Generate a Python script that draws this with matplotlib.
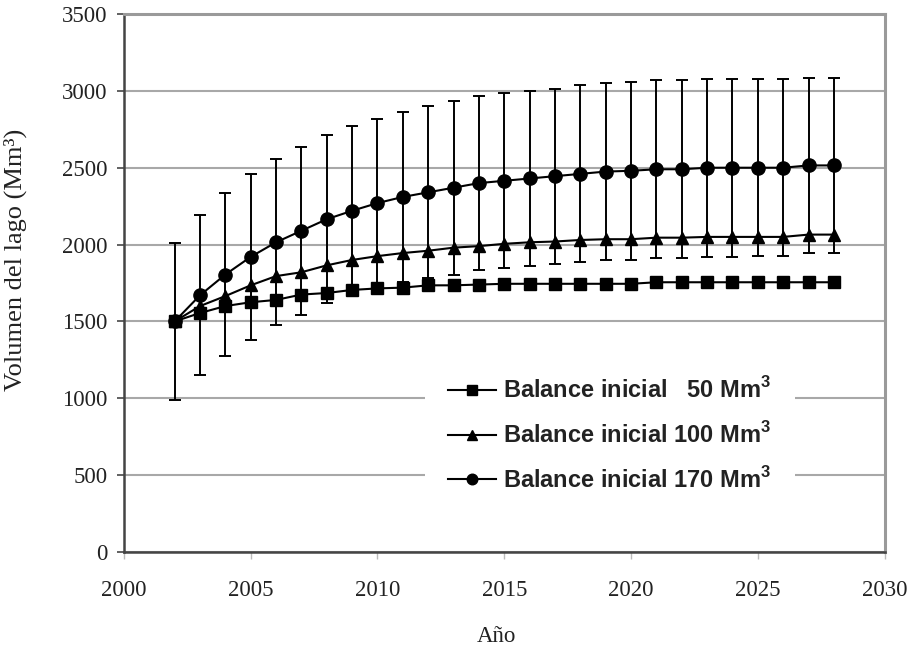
import numpy as np
import matplotlib
matplotlib.use("Agg")
from matplotlib import pyplot as plt

## datos
anios = np.arange(2002, 2029)
bal_50 = [1500, 1555, 1600, 1625, 1640, 1675, 1685, 1705, 1715, 1720, 1735, 1735, 1740, 1745,
          1745, 1745, 1745, 1745, 1745, 1755, 1755, 1755, 1755, 1755, 1755, 1755, 1755]
bal_100 = [1500, 1600, 1665, 1735, 1795, 1820, 1865, 1900, 1925, 1945, 1960, 1980, 1990, 2005,
           2015, 2020, 2030, 2035, 2035, 2045, 2045, 2050, 2050, 2050, 2050, 2065, 2065]
bal_170 = [1500, 1670, 1805, 1920, 2015, 2090, 2165, 2220, 2270, 2310, 2340, 2370, 2400, 2415,
           2430, 2445, 2460, 2475, 2480, 2490, 2490, 2500, 2500, 2500, 2500, 2515, 2515]
err_170 = [510, 520, 530, 540, 540, 545, 545, 550, 550, 555, 560, 565, 565, 570,
           570, 570, 575, 575, 580, 580, 580, 580, 580, 575, 575, 570, 570]
etiquetas = ['Balance inicial   50 Mm$^{\\mathbf{3}}$',
             'Balance inicial 100 Mm$^{\\mathbf{3}}$',
             'Balance inicial 170 Mm$^{\\mathbf{3}}$']

plt.rcParams['mathtext.fontset'] = 'custom'
plt.rcParams['mathtext.bf'] = 'Liberation Sans:bold'
plt.rcParams['mathtext.rm'] = 'Liberation Sans'

fig = plt.figure(figsize=(9.11, 6.51), dpi=100)
ax = fig.add_axes([0.136, 0.152, 0.835, 0.8265])

# barras de error (solo la serie de 170)
ax.errorbar(anios, bal_170, yerr=err_170, fmt='none', ecolor='black', elinewidth=1.4,
            capsize=4, capthick=1.4, zorder=3)
ax.plot(anios, bal_50, color='black', lw=1.5, marker='s', ms=8.5, label=etiquetas[0], zorder=4)
ax.plot(anios, bal_100, color='black', lw=1.5, marker='^', ms=8.5, label=etiquetas[1], zorder=4)
ax.plot(anios, bal_170, color='black', lw=1.5, marker='o', ms=9.5, label=etiquetas[2], zorder=4)

ax.set_xlim(2000, 2030)
ax.set_ylim(0, 3500)
ax.set_xticks(range(2000, 2031, 5))
ax.set_yticks(range(0, 3501, 500))
ax.yaxis.grid(True, color='#a8a8a8', lw=1.5)
ax.set_axisbelow(True)

for s in ['left', 'bottom']:
    ax.spines[s].set_color('#444444')
    ax.spines[s].set_linewidth(1.8)
for s in ['top', 'right']:
    ax.spines[s].set_color('#9a9a9a')
    ax.spines[s].set_linewidth(2.2)

ax.tick_params(axis='y', direction='out', length=5, width=1.3, color='#555555',
               pad=7, labelsize=16.5)
ax.tick_params(axis='x', direction='out', length=5, width=1.0, color='#bbbbbb',
               pad=15, labelsize=16.5)
for t in ax.get_xticklabels() + ax.get_yticklabels():
    t.set_fontfamily('Liberation Serif')
    t.set_color('#222222')

ax.set_xlabel('Año', fontsize=16.5, family='Liberation Serif', color='#222222')
ax.set_ylabel('Volumen del lago (Mm³)', fontsize=19, family='Liberation Serif', color='#222222')
ax.xaxis.set_label_coords(0.49, -0.1375)
ax.yaxis.set_label_coords(-0.128, 0.543)

leg = ax.legend(loc='center left', bbox_to_anchor=(0.3955, 0.2175), frameon=True,
                borderaxespad=0, borderpad=1.0, handlelength=2.0, handletextpad=0.3,
                labelspacing=0.8, markerscale=0.8,
                prop={'family': 'Liberation Sans', 'weight': 'bold', 'size': 17})
leg.get_frame().set_edgecolor('none')
leg.get_frame().set_facecolor('white')
leg.get_frame().set_alpha(1)
for t in leg.get_texts():
    t.set_color('#222222')

plt.savefig('out.png', dpi=100)
